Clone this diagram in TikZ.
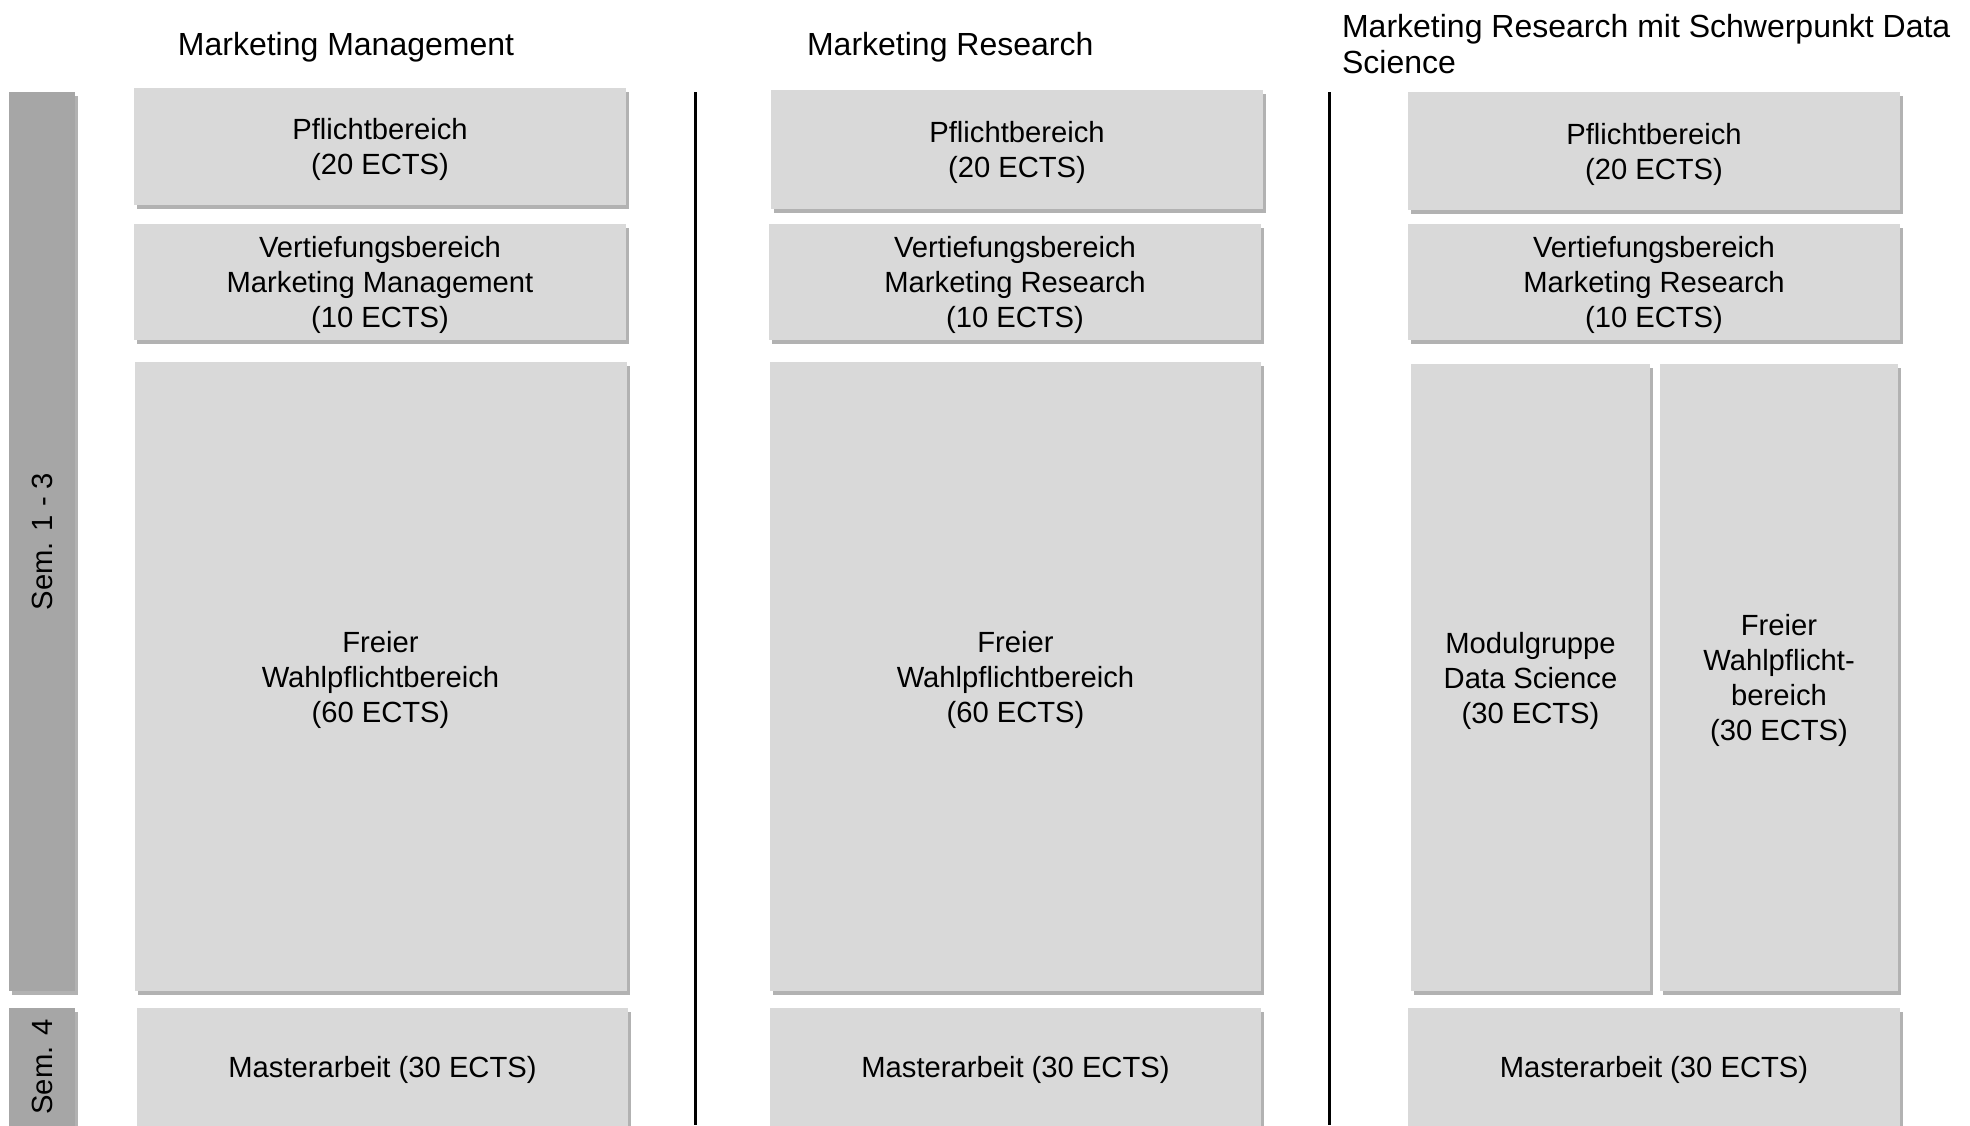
\documentclass[tikz,border=0pt]{standalone}
\usepackage{fontspec}
\setmainfont{Liberation Sans}
\usetikzlibrary{shadows,positioning}

\definecolor{boxgray}{HTML}{D9D9D9}
\definecolor{semgray}{HTML}{A6A6A6}

\begin{document}
\begin{tikzpicture}[
		x=0.5pt, y=-0.5pt,
		shade/.style={drop shadow={shadow xshift=1.6pt, shadow yshift=-1.8pt, fill=black!55, opacity=0.55}},
		block/.style={shade, fill=boxgray, align=center, inner sep=0pt, text depth=0pt,
			font=\fontsize{14.6}{17.5}\selectfont},
		sembar/.style={shade, fill=semgray, minimum width=33pt, inner sep=0pt},
		semlabel/.style={rotate=90, font=\fontsize{14.6}{17.5}\selectfont},
		header/.style={align=left, font=\fontsize{16}{18.2}\selectfont},
		divider/.style={line width=1.5pt},
	]
		\useasboundingbox (0,0) rectangle (1970,1125);
		
		% semester bars
		\node (sem13) [sembar, minimum height=449.5pt] at (42,541.5) {};
		\node (sem4) [sembar, minimum height=59pt] at (42,1067) {};
		\node [semlabel] at (sem13) {Sem. 1 - 3};
		\node [semlabel] at (sem4) {Sem. 4};
		
		% headers
		\node (hmm) [header] at (346,47) {Marketing Management};
		\node (hmr) [header, anchor=west] at (800,47) {Marketing Research};
		\node (hds) [header, anchor=west] at (1335,44) {Marketing Research mit Schwerpunkt Data\\Science};
		
		% Marketing Management
		\node (mmpf) [block, minimum width=246pt, minimum height=58.5pt] at (380,146.5) {Pflichtbereich\\(20 ECTS)};
		\node (mmvt) [block, minimum width=246pt, minimum height=58pt] at (380,282) {Vertiefungsbereich\\Marketing Management\\(10 ECTS)};
		\node (mmwp) [block, minimum width=246pt, minimum height=314.5pt] at (380.5,676.5) {Freier\\Wahlpflichtbereich\\(60 ECTS)};
		\node (mmma) [block, minimum width=245.5pt, minimum height=59pt] at (382.5,1067) {Masterarbeit (30 ECTS)};
		
		% Marketing Research
		\node (mrpf) [block, minimum width=246pt, minimum height=59.5pt] at (1017,149.5) {Pflichtbereich\\(20 ECTS)};
		\node (mrvt) [block, minimum width=246pt, minimum height=58pt] at (1015,282) {Vertiefungsbereich\\Marketing Research\\(10 ECTS)};
		\node (mrwp) [block, minimum width=245.5pt, minimum height=314.5pt] at (1015.5,676.5) {Freier\\Wahlpflichtbereich\\(60 ECTS)};
		\node (mrma) [block, minimum width=245.5pt, minimum height=59pt] at (1015.5,1067) {Masterarbeit (30 ECTS)};
		
		% Marketing Research mit Schwerpunkt Data Science
		\node (dspf) [block, minimum width=246pt, minimum height=59pt] at (1654,151) {Pflichtbereich\\(20 ECTS)};
		\node (dsvt) [block, minimum width=246pt, minimum height=58pt] at (1654,282) {Vertiefungsbereich\\Marketing Research\\(10 ECTS)};
		\node (dsmg) [block, minimum width=119.5pt, minimum height=313.5pt] at (1530.5,677.5) {Modulgruppe\\Data Science\\(30 ECTS)};
		\node (dswp) [block, minimum width=119pt, minimum height=313.5pt] at (1779,677.5) {Freier\\Wahlpflicht-\\bereich\\(30 ECTS)};
		\node (dsma) [block, minimum width=246pt, minimum height=59pt] at (1654,1067) {Masterarbeit (30 ECTS)};
		
		% dividers
		\coordinate (d1top) at (695,92);
		\coordinate (d1bot) at (695,1125);
		\coordinate (d2top) at (1329,92);
		\coordinate (d2bot) at (1329,1125);
		\draw[divider] (d1top) -- (d1bot);
		\draw[divider] (d2top) -- (d2bot);
	\end{tikzpicture}
\end{document}
